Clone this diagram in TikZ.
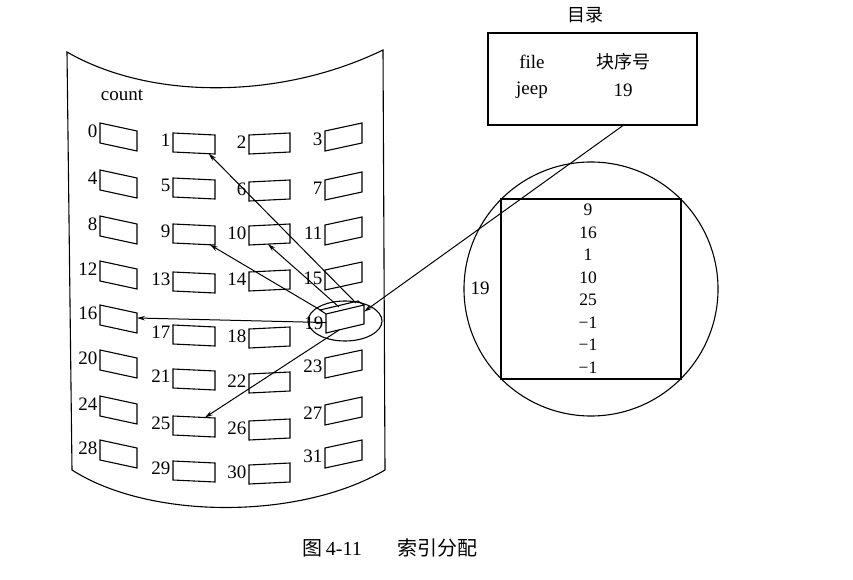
\documentclass[tikz,border=0pt]{standalone}
\usepackage{fontspec}
\setmainfont{Liberation Serif}
\newfontfamily\cjk{Noto Sans CJK SC}
\usetikzlibrary{arrows.meta,calc,shapes.geometric}
\newcommand\blk[7]{%
  \coordinate (#1tl) at (#2,#3);
  \coordinate (#1tr) at (#2+#4,#3+#5);
  \coordinate (#1br) at (#2+#4,#3+#5+#6);
  \coordinate (#1bl) at (#2,#3+#6);
  \draw[blockline] (#1tl) -- (#1tr) -- (#1br) -- (#1bl) -- cycle;
  \node[lbl] (#1l) at (#2-2,#3+#6/2-2) {#7};
}
\begin{document}
\begin{tikzpicture}[x=1pt,y=-1pt,line width=1.1pt,
  blockline/.style={line width=1.1pt},
  lbl/.style={font=\fontsize{19}{21}\selectfont, inner sep=0pt, anchor=east},
  txt/.style={font=\fontsize{19}{21}\selectfont, inner sep=0pt},
  num/.style={font=\fontsize{17.5}{20}\selectfont, inner sep=0pt},
  cjktxt/.style={font=\cjk\fontsize{18}{20}\selectfont, inner sep=0pt},
  arr/.style={-{Stealth[length=8pt,width=4.5pt]}, line width=1pt}]
\useasboundingbox (0,0) rectangle (853,580);

% drum outline
\draw (67,52) .. controls (150,100) and (280,100) .. (383,50) -- (385,470)
      .. controls (300,520) and (150,520) .. (72,470) -- cycle;
\node[txt] (count) at (122,95) {count};

% column 0
\blk{b0}{100}{123}{37}{8}{20}{0}
\blk{b4}{100}{170}{37}{8}{20}{4}
\blk{b8}{100}{216}{37}{8}{20}{8}
\blk{b12}{100}{261}{37}{8}{20}{12}
\blk{b16}{100}{305}{37}{8}{20}{16}
\blk{b20}{100}{350}{37}{8}{20}{20}
\blk{b24}{100}{396}{37}{8}{20}{24}
\blk{b28}{100}{440}{37}{8}{20}{28}
% column 1
\blk{b1}{173}{133}{42}{2}{19}{1}
\blk{b5}{173}{178}{42}{2}{19}{5}
\blk{b9}{173}{224}{42}{2}{19}{9}
\blk{b13}{173}{272}{42}{2}{19}{13}
\blk{b17}{173}{325}{42}{2}{19}{17}
\blk{b21}{173}{369}{42}{2}{19}{21}
\blk{b25}{173}{416}{42}{2}{19}{25}
\blk{b29}{173}{461}{42}{2}{19}{29}
% column 2
\blk{b2}{249}{135}{41}{-2}{19}{2}
\blk{b6}{249}{182}{41}{-2}{19}{6}
\blk{b10}{249}{226}{41}{-2}{19}{10}
\blk{b14}{249}{272}{41}{-2}{19}{14}
\blk{b18}{249}{329}{41}{-2}{19}{18}
\blk{b22}{249}{374}{41}{-2}{19}{22}
\blk{b26}{249}{421}{41}{-2}{19}{26}
\blk{b30}{249}{465}{41}{-2}{19}{30}
% column 3
\blk{b3}{325}{131}{37}{-8}{20}{3}
\blk{b7}{325}{180}{37}{-8}{20}{7}
\blk{b11}{325}{225}{37}{-8}{20}{11}
\blk{b15}{325}{270}{37}{-8}{20}{15}
\blk{b23}{325}{358}{37}{-8}{20}{23}
\blk{b27}{325}{405}{37}{-8}{20}{27}
\blk{b31}{325}{448}{37}{-8}{20}{31}

% block 19 (3D box)
\coordinate (b19tl) at (326,314);
\coordinate (b19tr) at (364,305);
\coordinate (b19br) at (364,324);
\coordinate (b19bl) at (326,333);
\coordinate (b19ktl) at (320,310);
\coordinate (b19ktr) at (358,301);
\draw (b19tl) -- (b19tr) -- (b19br) -- (b19bl) -- cycle;
\draw (b19tl) -- (b19ktl) -- (b19ktr) -- (b19tr);
\node[lbl] (b19l) at (324,323) {19};
\node[draw, ellipse, minimum width=74pt, minimum height=40pt, inner sep=0pt] (ell) at (345,321) {};

% arrows from block 19
\coordinate (t1) at (356,303);
\coordinate (t10) at (339,307);
\coordinate (t9) at (322,311);
\draw[arr] (t1) -- ($(b1bl)!0.85!(b1br)$);
\draw[arr] (t10) -- ($(b10bl)!0.46!(b10br)$);
\draw[arr] (t9) -- ($(b9bl)!0.88!(b9br)$);
\draw[arr] ($(b19tl)!0.45!(b19bl)$) -- ($(b16tr)!0.25!(b16br)$);
\draw[arr] ($(b19bl)!0.35!(b19br)$) -- ($(b25tl)!0.76!(b25tr)$);

% directory
\node[cjktxt] (dirtitle) at (585,15) {目录};
\node[draw, minimum width=209pt, minimum height=92pt, inner sep=0pt] (dir) at (592.5,79) {};
\node[txt] (hfile) at (532,62) {file};
\node[cjktxt] (hblk) at (623,62) {块序号};
\node[txt] (vjeep) at (532,90) {jeep};
\node[txt] (v19) at (623,90) {19};
\draw[arr] ($(dir.south west)!0.645!(dir.south east)$) -- ($(b19tr)!0.35!(b19br)$);

% index block
\node[draw, circle, minimum size=254pt, inner sep=0pt] (circ) at (591,289) {};
\node[draw, minimum width=180pt, minimum height=180pt, inner sep=0pt] (idx) at (591,289) {};
\node[txt] (c19) at (480,288) {19};
\node[num] (n0) at (588,210) {9};
\node[num] (n1) at (588,232.5) {16};
\node[num] (n2) at (588,255) {1};
\node[num] (n3) at (588,277.5) {10};
\node[num] (n4) at (588,300) {25};
\node[num] (n5) at (588,322.5) {−1};
\node[num] (n6) at (588,345) {−1};
\node[num] (n7) at (588,367.5) {−1};

% caption
\node[font=\cjk\fontsize{20}{22}\selectfont, inner sep=0pt, anchor=west] (cap1) at (302,548) {图\,{\fontspec{Liberation Serif}4-11}};
\node[font=\cjk\fontsize{20}{22}\selectfont, inner sep=0pt, anchor=west] (cap2) at (397,548) {索引分配};
\end{tikzpicture}
\end{document}
